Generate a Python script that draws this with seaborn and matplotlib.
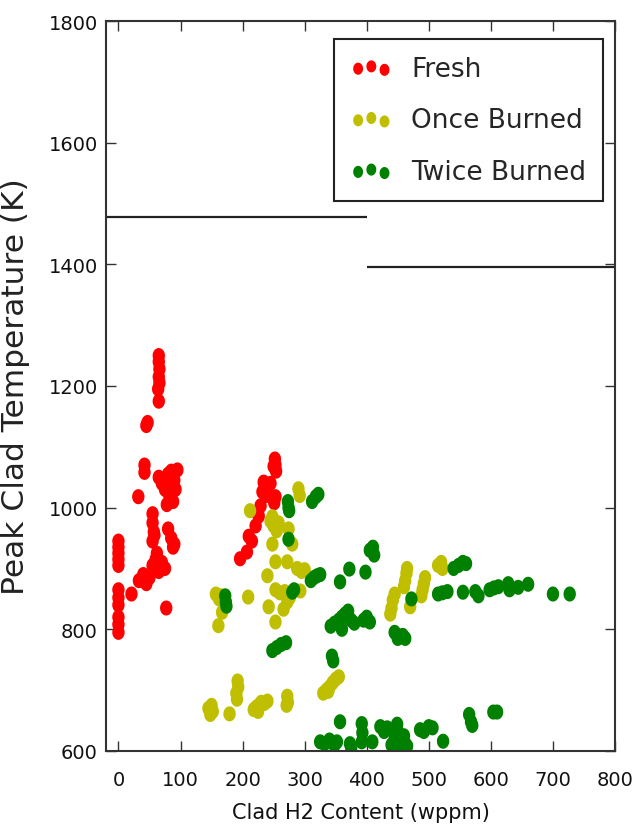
import matplotlib
matplotlib.use("Agg")
import matplotlib.pyplot as plt
from matplotlib.path import Path
import numpy as np
import pandas as pd
import seaborn as sns

# Peak cladding temperature vs. cladding hydrogen content, by burn cycle
fresh_x = [0, 0, 0, 0, 0, 0, 0, 0, 0, 0, 0,
           21, 33, 40, 45, 50, 55, 60, 65, 70, 75, 62, 77,
           55, 55, 57, 55, 58, 80, 85, 88, 90, 32, 42, 42,
           65, 70, 75, 80, 85, 90, 95, 82, 88, 78, 92, 85,
           45, 47, 65, 65, 66, 65, 66, 64, 65,
           196, 207, 210, 215, 221, 226, 225, 229, 232, 234, 238, 240, 245,
           250, 253, 251, 250, 252, 253, 254]
fresh_y = [945, 935, 925, 915, 905, 865, 852, 840, 820, 808, 795,
           858, 880, 890, 875, 885, 905, 915, 895, 910, 900, 925, 835,
           990, 975, 960, 945, 955, 965, 950, 935, 940, 1018, 1070, 1058,
           1050, 1040, 1030, 1055, 1060, 1045, 1062, 1020, 1010, 1005, 1030, 1040,
           1135, 1140, 1250, 1240, 1228, 1215, 1205, 1195, 1175,
           916, 927, 953, 945, 970, 986, 990, 1003, 1026, 1042, 1030, 1020, 1040,
           1014, 1018, 1008, 1068, 1080, 1070, 1060]

once_x = [145, 148, 150, 152, 179, 192, 193, 190, 191, 218, 222, 226, 230, 235,
          240, 225, 272, 273, 271, 330, 335, 340, 345, 350, 355, 338,
          157, 162, 165, 161, 167, 209, 212,
          245, 250, 255, 258, 248, 248, 253, 240, 253, 260, 268, 272, 272, 274,
          280, 288, 295, 300, 293, 272, 276, 266, 242, 253, 290, 292,
          438, 440, 442, 445, 460, 462, 464, 465, 470, 488, 490, 492, 494,
          515, 520, 522]
once_y = [670, 660, 675, 665, 661, 715, 705, 695, 685, 668, 672, 675, 680, 678,
          682, 665, 690, 680, 675, 695, 700, 705, 712, 718, 722, 698,
          858, 850, 855, 806, 828, 853, 995,
          978, 970, 962, 975, 985, 940, 911, 888, 865, 860, 862, 858, 911, 965,
          940, 900, 895, 898, 863, 845, 852, 833, 837, 812, 1031, 1020,
          825, 835, 848, 858, 870, 880, 892, 900, 837, 855, 865, 875, 885,
          905, 910, 900]

twice_x = [172, 173, 174, 273, 274, 275, 274, 280, 283, 312, 318, 322,
           310, 315, 320, 325, 248, 255, 262, 270, 344, 346,
           357, 372, 398, 405, 410, 412,
           342, 348, 355, 360, 365, 370, 375, 380, 360, 395, 400, 405,
           445, 450, 458, 462, 472,
           515, 522, 530, 540, 548, 555, 560, 555, 575, 580, 598, 605, 612,
           628, 630, 644, 660, 700, 727,
           357, 325, 332, 340, 348, 352, 373, 375, 392, 393, 392, 409,
           422, 428, 433, 440, 445, 450, 455, 460, 465, 450, 462, 449,
           486, 492, 500, 506, 523, 565, 568, 570, 604, 610]
twice_y = [855, 845, 838, 1010, 1000, 995, 948, 861, 865, 1010, 1018, 1022,
           880, 885, 888, 890, 765, 770, 775, 778, 756, 748,
           878, 899, 894, 930, 935, 922,
           805, 810, 815, 820, 825, 830, 815, 810, 800, 815, 820, 812,
           795, 785, 790, 785, 850,
           858, 860, 862, 900, 905, 910, 908, 861, 862, 855, 865, 868, 870,
           875, 865, 869, 874, 858, 858,
           648, 615, 612, 618, 610, 615, 612, 605, 645, 630, 615, 615,
           640, 632, 638, 610, 620, 605, 615, 625, 608, 632, 612, 644,
           635, 632, 640, 638, 616, 660, 648, 642, 664, 664]

series_names = ["Fresh", "Once Burned", "Twice Burned"]
series_colors = ["#ff0000", "#bfbf00", "#008000"]

# limit lines: (y value, x start, x end)
limit_y = [1478, 1395]
limit_xmin = [-20, 400]
limit_xmax = [400, 800]

x_ticks = [0, 100, 200, 300, 400, 500, 600, 700, 800]
y_ticks = [600, 800, 1000, 1200, 1400, 1600, 1800]

frames = []
for name, xs, ys in zip(series_names, [fresh_x, once_x, twice_x],
                        [fresh_y, once_y, twice_y]):
    frames.append(pd.DataFrame({"h2": xs, "temp": ys, "batch": name}))
data = pd.concat(frames, ignore_index=True)

sns.set_style("ticks")
plt.rcParams["font.family"] = ["DejaVu Sans"]

fig = plt.figure(figsize=(6.36, 8.37), dpi=100)
ax = fig.add_axes([0.1667, 0.1016, 0.8003, 0.8721])

# slightly tall oval dot
t = np.linspace(0, 2 * np.pi, 40)
oval = Path(np.column_stack([0.82 * np.cos(t), np.sin(t)]), closed=True)

for name, color in zip(series_names, series_colors):
    sub = data[data["batch"] == name]
    sns.scatterplot(data=sub, x="h2", y="temp", color=color, marker=oval,
                    s=118, linewidth=0, edgecolor="none", label=name, ax=ax,
                    legend=False)

ax.hlines(limit_y, limit_xmin, limit_xmax, colors="#222222", linewidth=1.6)

ax.set_xlim(-20, 800)
ax.set_ylim(600, 1800)
ax.set_xticks(x_ticks)
ax.set_yticks(y_ticks)
ax.tick_params(direction="in", top=True, right=True, length=7, width=1,
               color="#333333", labelcolor="#111111")
ax.tick_params(axis="x", labelsize=14, pad=14)
ax.tick_params(axis="y", labelsize=14, pad=6)
for sp in ax.spines.values():
    sp.set_visible(True)
    sp.set_color("#333333")
    sp.set_linewidth(1.5)

ax.set_xlabel("Clad H2 Content (wppm)", fontsize=15, color="#111111", labelpad=9)
ax.set_ylabel("Peak Clad Temperature (K)", fontsize=22.5, color="#222222", labelpad=13)

leg = ax.legend(loc="upper right", bbox_to_anchor=(0.976, 0.975),
                scatterpoints=3, fontsize=19, frameon=True, fancybox=False,
                borderpad=0.62, labelspacing=0.97, handlelength=1.6,
                handletextpad=0.72, borderaxespad=0.0, markerscale=0.8)
leg.get_frame().set_edgecolor("#222222")
leg.get_frame().set_linewidth(1.5)
leg.get_frame().set_alpha(1)

fig.savefig("out.png", dpi=100, facecolor="white")
